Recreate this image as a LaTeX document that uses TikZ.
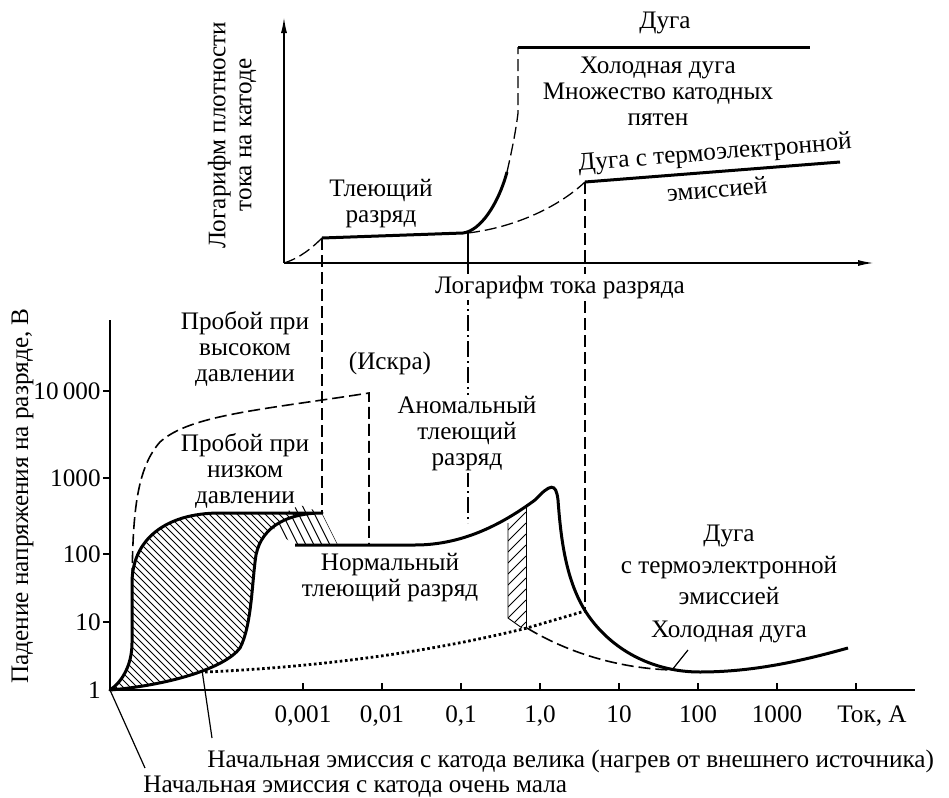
\documentclass[tikz,border=0pt]{standalone}
\usepackage{fontspec}
\setmainfont{Liberation Serif}
\usetikzlibrary{arrows.meta}

\newcommand{\lobepath}{(110,690) .. controls (122,682) and (132,665) .. (132,643) -- (132,583) .. controls (132,540) and (165,513) .. (220,513) -- (322,513) .. controls (290,513) and (262,525) .. (256,555) .. controls (252,580) and (252,625) .. (240,648) .. controls (225,668) and (170,685) .. (110,690) -- cycle}

\begin{document}
\begin{tikzpicture}[x=0.5pt, y=-0.5pt, font=\fontsize{12.6}{13}\selectfont,
    txt/.style={align=center, inner sep=1pt},
    axis/.style={line width=0.8pt},
    curve/.style={line width=1.5pt},
    guide/.style={line width=0.65pt, dash pattern=on 6pt off 2.5pt},
    dashdot/.style={line width=0.6pt, dash pattern=on 8pt off 2pt on 1pt off 2pt},
    dots/.style={line width=1.4pt, dash pattern=on 1.3pt off 1.3pt},
    hatch/.style={line width=0.45pt},
    gap/.style={fill=white}]
    \useasboundingbox (0,0) rectangle (949,798);

    \coordinate (O1) at (284,263);
    \coordinate (ytip) at (284,17);
    \coordinate (xtip) at (874,263);
    \coordinate (g1) at (322,238);
    \coordinate (g2) at (463,233);
    \coordinate (g3) at (507,172);
    \coordinate (g4) at (518,113);
    \coordinate (g5) at (518,47);
    \coordinate (g6) at (810,47);
    \coordinate (ab) at (468,233);
    \coordinate (ax) at (468,263);
    \coordinate (t1) at (585,182);
    \coordinate (t2) at (840,162);

    \draw[axis, -{Latex[length=8pt,width=3pt]}] (O1) -- (ytip);
    \draw[axis, -{Latex[length=8pt,width=3pt]}] (O1) -- (xtip);
    \draw[guide] (O1) .. controls (300,258) and (312,248) .. (g1);
    \draw[curve] (g1) -- (g2) .. controls (480,231) and (498,205) .. (g3);
    \draw[guide] (g3) .. controls (512,150) and (516,130) .. (g4) -- (g5);
    \draw[curve] (g5) -- (g6);
    \draw[guide] (ab) .. controls (510,228) and (555,210) .. (t1);
    \draw[curve] (t1) -- (t2);

    \coordinate (O2) at (110,690);
    \coordinate (ytop2) at (110,320);
    \coordinate (xend2) at (915,690);
    \coordinate (lobetop) at (322,513);
    \coordinate (spark) at (369,393);
    \coordinate (glowA) at (295,545);
    \coordinate (glowB) at (415,545);
    \coordinate (sparkbot) at (369,545);
    \coordinate (anombot) at (468,523);
    \coordinate (arcX) at (585,611);
    \coordinate (barB) at (527,628);
    \coordinate (hp0) at (132,580);
    \coordinate (th0) at (205,672);
    \coordinate (cold0) at (672,670);

    \draw[guide] (g1) -- (lobetop);
    \draw[axis, line width=0.6pt] (ab) -- (ax);
    \draw[dashdot] (ax) -- (anombot);
    \draw[guide] (t1) -- (arcX);

    \draw[axis] (ytop2) -- (O2) -- (xend2);
    \foreach \y in {391,478,554,622} \draw[axis] (103,\y) -- (110,\y);
    \foreach \x in {303,382,...,856} \draw[axis] (\x,690) -- (\x,683);

    \begin{scope}
        \clip (322,513) -- (338,545) -- (294,545) -- (266,522) -- (300,505) -- cycle;
        \foreach \k in {318,310,...,246} \draw[hatch] (\k,505) -- (\k+20,545);
    \end{scope}
    \fill[white] \lobepath;
    \begin{scope}
        \clip \lobepath;
        \foreach \k in {-120,-113,...,330} \draw[hatch] (\k,500) -- (\k+200,700);
    \end{scope}
    \draw[curve, line join=round] \lobepath;

    \draw[guide, line width=0.8pt] (hp0) .. controls (133,520) and (135,470) .. (160,442) .. controls (190,415) and (260,410) .. (spark) -- (sparkbot);

    \begin{scope}
        \clip (508,523) -- (508,618) -- (522,628) -- (526,628) -- (526,507) -- cycle;
        \foreach \y in {530,541,...,650} \draw[hatch] (508,\y) -- (526,\y-18);
    \end{scope}
    \draw[hatch] (508,523) -- (508,618) -- (522,628);
    \draw[hatch] (526,507) -- (526,628);

    \draw[dots] (th0) .. controls (320,667) and (430,652) .. (barB) -- (arcX);
    \draw[guide, line width=0.8pt] (barB) .. controls (560,648) and (610,668) .. (cold0);
    \draw[curve] (glowA) -- (glowB) .. controls (465,545) and (505,522) .. (535,500) .. controls (550,484) and (556,482) .. (558,500) .. controls (561,540) and (566,585) .. (590,618) .. controls (615,652) and (655,672) .. (700,672) .. controls (755,672) and (805,660) .. (848,648);

    \node[txt, rotate=90] (ylab1) at (232,135) {Логарифм плотности\\тока на катоде};
    \node[txt, gap] (xlab1) at (560,287) {Логарифм тока разряда};
    \node[txt] (glow) at (381,204) {Тлеющий\\разряд};
    \node[txt] (arc) at (665,23) {Дуга};
    \node[txt] (cold) at (658,91) {Холодная дуга\\Множество катодных\\пятен};
    \node[txt, rotate=4.6, inner sep=0pt] (therm) at (715,154) {Дуга с термоэлектронной};
    \node[txt, rotate=4.6, inner sep=0pt] (thermb) at (717,189) {эмиссией};

    \node[rotate=90, anchor=base] (ylab2) at (28,496) {Падение напряжения на разряде, В};
    \foreach \y/\t in {391/10\,000, 478/1000, 554/100, 622/10, 690/1}
        \node[anchor=east, inner sep=1pt] (v\y) at (103,\y) {\t};
    \foreach \x/\t in {303/{0,001}, 382/{0,01}, 461/{0,1}, 540/{1,0}, 619/10, 698/100, 777/1000, 872/{Ток, А}}
        \node[anchor=base] (h\x) at (\x,722) {\t};

    \node[txt] (hpress) at (245,349) {Пробой при\\высоком\\давлении};
    \node[txt] (iskra) at (390,363) {(Искра)};
    \node[txt] (lpress) at (245,471) {Пробой при\\низком\\давлении};
    \node[txt, gap] (anom) at (467,434) {Аномальный\\тлеющий\\разряд};
    \node[txt] (norm) at (390,578) {Нормальный\\тлеющий разряд};
    \node[txt, font=\fontsize{12.6}{15.8}\selectfont] (tharc) at (729,565) {Дуга\\с термоэлектронной\\эмиссией};
    \node[txt] (coldarc) at (729,632) {Холодная дуга};
    \node[anchor=base west, inner sep=0pt] (hot) at (207,767) {Начальная эмиссия с катода велика (нагрев от внешнего источника)};
    \node[anchor=base west, inner sep=0pt] (low) at (143,792) {Начальная эмиссия с катода очень мала};

    \coordinate (coldtip) at (688,650);
    \coordinate (hottip) at (212,738);
    \coordinate (lowtip) at (145,768);
    \coordinate (hot0) at (202,670);
    \draw[hatch, line width=0.6pt] (cold0) -- (coldtip);
    \draw[hatch, line width=0.6pt] (hot0) -- (hottip);
    \draw[hatch, line width=0.6pt] (O2) -- (lowtip);
\end{tikzpicture}
\end{document}
